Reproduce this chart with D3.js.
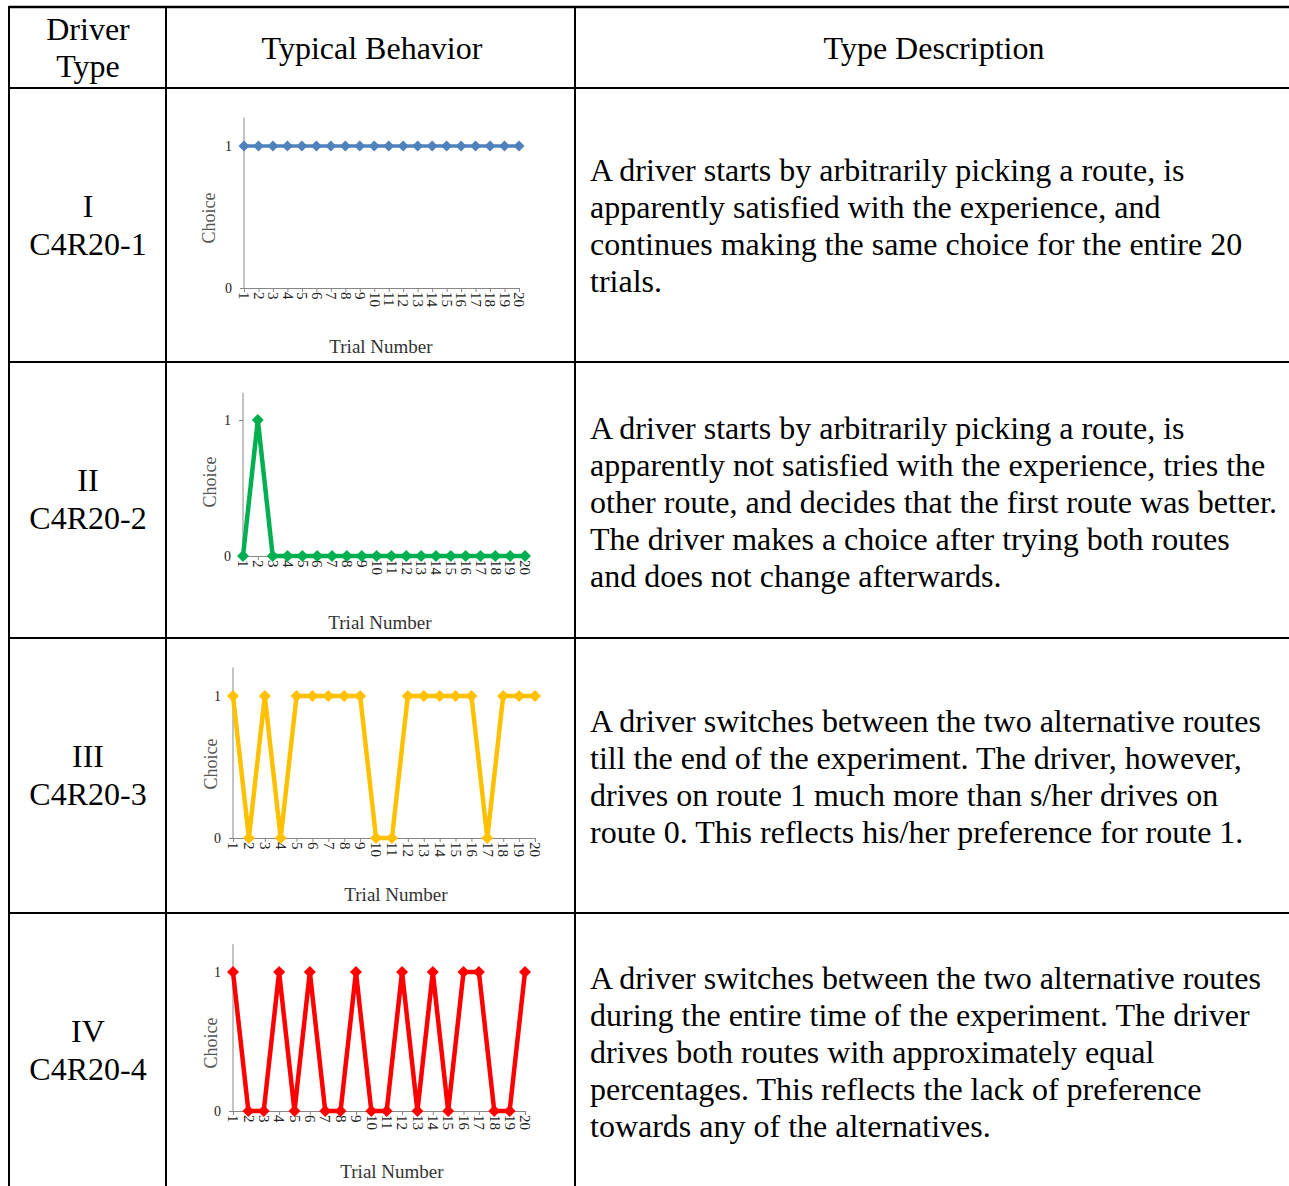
<!DOCTYPE html>
<html><head><meta charset="utf-8">
<script src="https://cdn.jsdelivr.net/npm/d3@7"></script>
<style>
html,body{margin:0;padding:0;background:#fff;}
svg{display:block;}
</style></head>
<body>
<svg id="c" width="1289" height="1186"></svg>
<script>
// ---- data ----
const trials = d3.range(1, 21);
const typeI   = [1,1,1,1,1,1,1,1,1,1,1,1,1,1,1,1,1,1,1,1];
const typeII  = [0,1,0,0,0,0,0,0,0,0,0,0,0,0,0,0,0,0,0,0];
const typeIII = [1,0,1,0,1,1,1,1,1,0,0,1,1,1,1,1,0,1,1,1];
const typeIV  = [1,0,0,1,0,1,0,0,1,0,0,1,0,1,0,1,1,0,0,1];
const yTicks = [0, 1];
const roman = ["I", "II", "III", "IV"];
const codes = ["C4R20-1", "C4R20-2", "C4R20-3", "C4R20-4"];
const headers = ["Driver|Type", "Typical Behavior", "Type Description"];
const descriptions = [
  ["A driver starts by arbitrarily picking a route, is",
   "apparently satisfied with the experience, and",
   "continues making the same choice for the entire 20",
   "trials."],
  ["A driver starts by arbitrarily picking a route, is",
   "apparently not satisfied with the experience, tries the",
   "other route, and decides that the first route was better.",
   "The driver makes a choice after trying both routes",
   "and does not change afterwards."],
  ["A driver switches between the two alternative routes",
   "till the end of the experiment. The driver, however,",
   "drives on route 1 much more than s/her drives on",
   "route 0. This reflects his/her preference for route 1."],
  ["A driver switches between the two alternative routes",
   "during the entire time of the experiment. The driver",
   "drives both routes with approximately equal",
   "percentages. This reflects the lack of preference",
   "towards any of the alternatives."]
];
const seriesList = [typeI, typeII, typeIII, typeIV];
const colors = ["#4F81BD", "#00B050", "#FFC000", "#FF0000"];

// ---- layout ----
const svg = d3.select("#c");
const serif = "'Liberation Serif','Times New Roman',serif";
const rowLines = [7, 88, 362, 638, 913];
const colLines = [9, 166, 575];

svg.selectAll("line.h").data(rowLines).join("line")
  .attr("x1", 9).attr("x2", 1289).attr("y1", d => d).attr("y2", d => d)
  .attr("stroke", "#000").attr("stroke-width", (d,i) => i === 0 ? 2.5 : 2);
svg.selectAll("line.v").data(colLines).join("line")
  .attr("x1", d => d).attr("x2", d => d).attr("y1", 6).attr("y2", 1186)
  .attr("stroke", "#000").attr("stroke-width", 2);

const fs = 32;
function txt(x, y, s, anchor) {
  svg.append("text").attr("x", x).attr("y", y).attr("text-anchor", anchor || "middle")
    .attr("font-family", serif).attr("font-size", fs).attr("fill", "#000").text(s);
}
const hdr = headers[0].split("|");
txt(88, 40, hdr[0]);
txt(88, 77, hdr[1]);
txt(372, 59, headers[1]);
txt(934, 59, headers[2]);

const romanY = [217, 491, 767, 1042];
roman.forEach((r, i) => {
  txt(88, romanY[i], r);
  txt(88, romanY[i] + 38, codes[i]);
});

const descY = [181, 439, 732, 989];
descriptions.forEach((lines, i) => {
  lines.forEach((ln, j) => txt(590, descY[i] + j * 36.9, ln, "start"));
});

// charts
const charts = [
  {x0: 244, x1: 519, y0: 288, y1: 146, tn: [381, 353], ch: [209, 218], lw: 3.5, ms: 60},
  {x0: 243, x1: 525, y0: 556, y1: 420, tn: [380, 629], ch: [210, 482], lw: 4.5, ms: 72},
  {x0: 233, x1: 535, y0: 838, y1: 696, tn: [396, 901], ch: [211, 764], lw: 4.5, ms: 72},
  {x0: 233, x1: 525, y0: 1111, y1: 972, tn: [392, 1178], ch: [211, 1043], lw: 4.5, ms: 72}
];

charts.forEach((c, i) => {
  const data = seriesList[i].map((v, k) => ({t: trials[k], v}));
  const x = d3.scalePoint().domain(trials).range([c.x0, c.x1]);
  const y = d3.scaleLinear().domain([0, 1]).range([c.y0, c.y1]);
  const top = y(1.2);
  const g = svg.append("g");

  const xa = g.append("g").attr("transform", `translate(0,${c.y0})`)
    .call(d3.axisBottom(x).tickSize(4).tickSizeOuter(0));
  xa.attr("font-size", null).attr("font-family", null);
  xa.select(".domain").attr("stroke", "#868686");
  xa.selectAll(".tick line").attr("stroke", "#868686");
  xa.selectAll(".tick text")
    .attr("transform", "rotate(90)")
    .attr("x", 4).attr("y", 0).attr("dy", "0.35em")
    .attr("text-anchor", "start")
    .style("font-family", serif).style("font-size", "15px").attr("fill", "#222");

  const ya = g.append("g").attr("transform", `translate(${c.x0},0)`)
    .call(d3.axisLeft(y).tickValues(yTicks).tickFormat(d3.format("d")).tickSize(4).tickSizeOuter(0).tickPadding(8));
  ya.attr("font-size", null).attr("font-family", null);
  ya.select(".domain").attr("d", `M0,${c.y0}V${top}`).attr("stroke", "#868686");
  ya.selectAll(".tick line").attr("stroke", "#868686");
  ya.selectAll(".tick text").style("font-family", serif)
    .style("font-size", "14px").attr("fill", "#222");

  g.append("path").datum(data)
    .attr("fill", "none").attr("stroke", colors[i]).attr("stroke-width", c.lw)
    .attr("stroke-linejoin", "miter")
    .attr("d", d3.line().x(d => x(d.t)).y(d => y(d.v)));
  g.selectAll("path.m").data(data).join("path")
    .attr("transform", d => `translate(${x(d.t)},${y(d.v)}) rotate(45)`)
    .attr("d", d3.symbol(d3.symbolSquare, c.ms))
    .attr("fill", colors[i]);

  g.append("text").attr("x", c.tn[0]).attr("y", c.tn[1]).attr("text-anchor", "middle")
    .attr("font-family", serif).attr("font-size", 19).attr("fill", "#333").text("Trial Number");
  g.append("text").attr("transform", `translate(${c.ch[0] + 6},${c.ch[1]}) rotate(-90)`)
    .attr("text-anchor", "middle")
    .attr("font-family", serif).attr("font-size", 18).attr("fill", "#555").text("Choice");
});
</script>
</body></html>
